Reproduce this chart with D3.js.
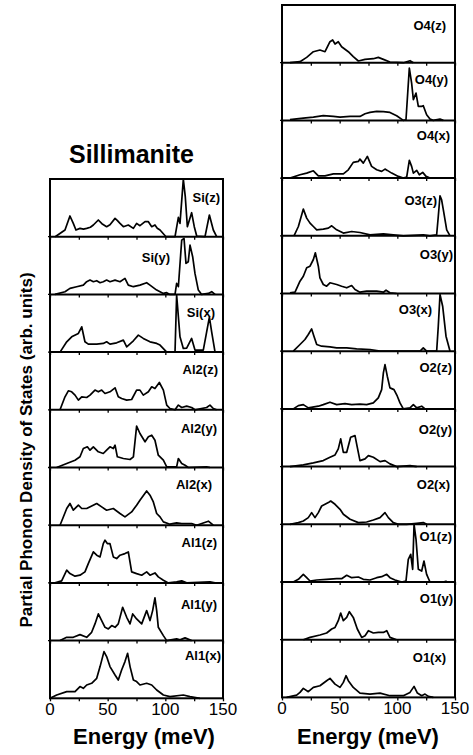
<!DOCTYPE html>
<html>
<head>
<meta charset="utf-8">
<script src="https://cdn.jsdelivr.net/npm/d3@7"></script>
<style>
  body { margin: 0; background: #fff; }
  svg { display: block; }
  text { font-family: "Liberation Sans", Arial, Helvetica, sans-serif; fill: #000; }
</style>
</head>
<body>
<svg id="chart" width="473" height="755"></svg>
<script>
// Partial phonon density of states of sillimanite, [energy (meV), PDOS (arb. units)]

// ---- Si ----
const siZ = [[4.5,0],[13,6.7],[17.3,20.7],[20.2,13.3],[22.5,6.7],[26,8.3],[29,7.5],[31.8,8.3],[35,9.5],[37.6,11.7],[41.9,16.7],[45,13],[49.1,10],[52,12],[56.4,18.3],[58.5,16],[60.7,13.3],[63.6,10],[67.9,11.7],[72.3,8.3],[75.1,13.3],[78,11],[82.4,15],[85.3,15],[88.2,10],[91,11.7],[93,8.5],[95.4,6.7],[100.6,0],[108.4,0],[111.3,19.3],[112.7,13.3],[115.6,57.3],[117.3,40],[119.1,10],[122.8,24],[125.1,10],[127.2,0.7],[134.4,0],[138.2,21.7],[141.6,6.7],[144.5,0]];
const siY = [[4.3,0],[13,2.7],[17.3,6],[23.1,7.7],[28.9,9.3],[31.8,12.7],[34.7,14.3],[37.6,12.7],[40.5,13.7],[43.4,11.7],[46.2,12.7],[49.1,14.3],[52,12.7],[56.4,14.3],[60.7,12.7],[65,16],[67.9,9.3],[72.3,7.7],[78,9.3],[83.8,11.7],[86.7,9.3],[92.5,4.3],[98.3,1],[101.2,1.7],[104,0],[108.4,0],[109.8,11],[111.3,7.7],[114.2,54.3],[116.2,56],[117.9,31],[119.9,32.7],[121.4,49.3],[123.7,37.7],[125.7,21],[128.6,4.3],[131.5,0],[137.3,1],[140.2,2.7],[143.1,0]];
const siX = [[8.7,0],[14.5,10.3],[18.8,15.3],[24.6,18.7],[27.5,25.3],[30.3,10.3],[33.2,8],[40.5,8],[46.2,8.7],[49.1,10.3],[52,8],[57.8,9.3],[63.6,12],[66.5,5.3],[72.3,11.3],[76.6,17],[80.9,13.7],[86.7,10.3],[92.5,8.7],[95.4,7],[101.2,0],[108.4,0],[109.8,57],[112.7,15.3],[115.6,3.7],[118.5,4],[122.8,13.7],[125.7,2],[132.9,2],[135.8,20],[138.2,35],[140.2,20],[143.1,0]];

// ---- Al2 ----
const al2Z = [[8.7,0],[13,13],[15.9,19],[18.8,18],[21.7,14.7],[24.6,9.7],[27.5,13],[31.8,12.3],[34.7,14.7],[39,19.7],[41.9,18],[44.8,19.7],[47.7,16.3],[52,18],[56.4,22],[59.2,13],[62.1,11.3],[66.5,9.7],[70.8,10.3],[75.1,19.7],[78,19.7],[80.9,14.7],[85.3,18],[88.2,23],[91,21.3],[94.8,27.3],[98.3,19.7],[101.2,4.7],[104,1.3],[108.4,0],[111.3,4.7],[114.2,2.3],[118.5,3.7],[122.8,2.3],[125.7,0],[135.8,2.3],[138.7,4.7],[141.6,1.3],[144.5,0]];
const al2Y = [[5.8,0],[14.5,4],[21.7,7.3],[26,10.7],[28.9,19],[32.4,20.7],[34.7,17.3],[37.6,20.7],[41.9,15.7],[46.2,14],[49.1,17.3],[52,20.7],[54.9,19],[56.4,22.3],[58.4,10.7],[63.6,9],[69.4,8],[72.3,10.7],[75.1,41.3],[78,34],[82.4,25.7],[85.3,30.7],[88.2,32.3],[91,27.3],[93.9,12.3],[98.3,7.3],[101.2,0.7],[109.8,0.7],[111.3,9],[114.2,4],[117.1,2.3],[119.9,0],[135.8,0.7],[138.7,0]];
const al2X = [[8.7,0],[14.5,16.7],[17.3,21.7],[20.2,15],[24.6,20],[27.5,16.7],[31.8,16.7],[40.5,21.7],[44.8,18.3],[49.1,15],[54.9,16.7],[60.7,11.7],[65,8.3],[70.8,13.3],[75.1,20],[78,25],[83.8,34.3],[86.7,30],[89.6,23.3],[92.5,11.7],[95.4,8.3],[98.3,3.3],[104,1],[109.8,2.3],[114.2,1.7],[122.8,1.7],[127.2,0],[137.3,4],[141.6,0]];

// ---- Al1 ----
const al1Z = [[4.3,0],[10.1,2],[14.5,12.7],[17.3,9.3],[21.7,6.7],[26,7.7],[30.3,11],[33.2,19.3],[37.6,31],[40.5,27.7],[43.4,26],[46.2,39.3],[47.7,42.7],[49.7,39.3],[52,39.3],[54.9,26],[57.8,24.3],[60.7,27.7],[65,29.3],[67.9,31],[70.8,11],[75.1,9.3],[79.5,7.7],[83.8,11],[86.7,7.7],[91,10],[93.9,6],[98.3,2.7],[102.6,0],[109.8,1],[114.2,2],[118.5,0],[138.7,1],[143.1,0]];
const al1Y = [[8.7,0],[14.5,3.3],[20.2,3.3],[26,6],[31.8,3.3],[36.1,8.3],[39,16.7],[41.9,26.7],[44.8,20],[47.7,13.3],[50.6,11.7],[53.5,15],[56.4,13.3],[59.2,16.7],[63,33.3],[66.5,23.3],[69.4,16.7],[71.7,26.7],[75.1,21.7],[79.5,16.7],[83.8,30],[86.7,20],[89,30],[91,42.7],[92.5,30],[93.9,13.3],[98.3,5],[101.2,0],[109.8,1.7],[112.7,0.7],[117.1,2.7],[122.8,0]];
const al1X = [[0,0],[5.8,3.3],[14.5,6.7],[21.7,6.7],[26,11.7],[28.9,10],[31.8,13.3],[36.1,15],[40.5,20],[43.4,31.7],[46.8,46.7],[49.1,41.7],[52,31.7],[56.4,23.3],[59.2,18.3],[62.1,28.3],[65,36.7],[67.3,45],[69.4,31.7],[72.3,18.3],[75.1,16.7],[78,13.3],[83.8,15],[88.2,13.3],[92.5,8.3],[98.3,3.3],[104,1.7],[115.6,3.3],[121.4,1.7],[130,0]];

// ---- O4 ----
const o4Z = [[6.9,0],[15.6,1],[21.4,5.3],[27.2,11],[32.9,12.7],[37.3,11],[41.6,21],[43.9,22.7],[46,18.7],[48.8,21],[51.7,16],[57.5,11],[61.8,6],[66.2,1.7],[72,3.3],[79.2,4],[83.5,5.3],[87.9,3.3],[93.6,0.7],[105.2,0],[111,2],[113.9,0]];
const o4Y = [[6.9,0.7],[18.5,2.3],[27.2,3.3],[35.8,4.7],[44.5,4],[50.3,3.3],[59,4],[67.6,4],[72,6.7],[76.3,8],[82.1,9],[87.9,8.7],[93.6,8],[99.4,4.7],[105.2,0],[107.5,0.7],[110.4,52.3],[112.4,37.3],[113.9,20.7],[116.2,27.3],[118.2,14],[121.1,14],[122.5,14.7],[125.4,5.7],[128.3,1.3],[131.2,0],[137,1.3],[139.9,0]];
const o4X = [[6.9,0],[15.6,3.3],[21.4,5],[27.2,7.3],[31.5,2.3],[37.3,2.3],[44.5,4.3],[53.2,4.3],[57.5,8.3],[61.8,15.7],[66.2,16.7],[67.6,19],[70.5,15],[74,21.7],[77.7,11.7],[82.1,8.3],[86.4,6.7],[89.3,9],[91.3,7.7],[95.1,5],[100.9,1.7],[105.2,0],[108.1,1],[110.4,17.7],[112.4,11.7],[113.9,5],[116.8,7.7],[119.1,3.3],[122,5.7],[124.9,1.7],[128.3,0]];

// ---- O3 ----
const o3Z = [[10.4,0],[14.2,9.3],[18.5,26.7],[21.4,17.7],[24.3,12.7],[27.2,9.3],[30.1,6],[35.8,6.7],[40.2,7.7],[43.1,10],[47.4,6],[53.2,2.7],[60.4,4.3],[67.6,3.3],[76.3,1],[87.9,2],[96.5,1],[105.2,0],[122.5,1],[128.3,0],[134.1,1],[135.5,19.3],[137,40],[138.4,36],[139.9,26],[142.8,6],[145.7,0]];
const o3Y = [[6.9,0.7],[11.3,1.3],[15.6,12.3],[18.5,17.3],[21.4,25.7],[24.3,27.3],[27.2,34],[28.9,40.7],[31.5,27.3],[32.9,15.7],[35.8,9],[38.7,7.3],[41.6,10.7],[47.4,9],[51.7,7.3],[56.1,5.7],[60.4,8],[63.3,4],[67.6,1.3],[73.4,2.3],[82.1,2.3],[87.9,1.3],[90.2,3.3],[93.6,0.7],[99.4,0]];
const o3X = [[9.8,0],[15.6,6.7],[19.9,11.7],[22.8,16.7],[25.7,22.3],[27.7,15],[30.1,6.7],[34.4,5],[41.6,4.3],[47.4,3.3],[56.1,3.3],[64.7,2.3],[76.3,1.7],[85,0],[119.7,0],[122.5,3.3],[125.4,0],[134.1,0],[135.5,25],[137,56.7],[139.3,45],[142.2,15],[145.7,0]];

// ---- O2 ----
const o2Z = [[9.8,0],[14.2,3.3],[18.5,4.3],[22.8,1],[31.5,2.7],[35.8,4.3],[41.6,6.7],[47.4,4.3],[54.6,5.3],[60.4,4.3],[67.6,4.7],[73.4,4.3],[79.2,6],[83.5,11],[86.4,19.3],[87.9,36],[89.3,44.3],[91.3,32.7],[93.6,21],[97.1,19.3],[100,12.7],[102.3,6],[105.2,0],[111,1],[113.9,4.3],[116.8,1],[121.1,2.7],[124,0]];
const o2Y = [[6.9,0],[18.5,1.7],[27.2,3.7],[35.8,6],[41.6,9.3],[46,11.7],[48.8,17.7],[50.9,27.7],[53.2,14.3],[56.1,14.3],[59.5,29.3],[63.3,31],[65.3,19.3],[67.6,6],[72,7.7],[74.9,11],[79.2,9.3],[85,5],[89.3,6],[93.6,2.7],[99.4,0],[111,1],[116.8,0]];
const o2X = [[6.9,0],[14.2,1.7],[18.5,3.3],[22.8,6.7],[25.7,11.7],[28.6,6.7],[31.5,11.7],[34.4,18.3],[37.3,20],[40.2,21.7],[42.2,23.3],[46,20],[50.3,15],[53.2,10],[59,5],[66.2,1.7],[73.4,2.3],[79.2,4.3],[85,6.7],[89.3,11.7],[92.2,6.7],[96.5,1.7],[100.9,0],[108.1,0],[116.8,1],[122.5,1.7],[125.4,0]];

// ---- O1 ----
const o1Z = [[9.8,0],[14.2,2.7],[18.5,7.7],[21.4,4.3],[24.3,1],[30.1,2],[38.7,2.7],[47.4,3.3],[51.7,3.3],[56.1,6.7],[60.4,4.3],[66.2,5],[70.5,2.7],[76.3,2],[82.1,4.3],[86.4,5.3],[90.8,7.7],[93.6,4.3],[98,2],[103.8,0],[107.5,1],[109.5,22.7],[111.6,27.7],[113.3,12.7],[114.5,57.7],[116.2,42.7],[118.2,12.7],[121.1,11],[123.1,21],[125.4,7.7],[128.3,0],[139.9,0],[142.8,1]];
const o1Y = [[18.5,0],[24.3,2.3],[32.9,4.7],[38.7,6.7],[43.1,10.7],[46,12.3],[48.8,19],[50.9,26.7],[53.2,19],[56.1,22.3],[58.4,28],[61.8,22.3],[65.3,10.7],[69.1,2.3],[72,4],[74.9,9],[79.2,6.7],[83.5,7.3],[87.9,7.3],[90.8,9],[93.6,2.3],[99.4,0]];
const o1X = [[4,0],[12.7,2.3],[15.6,5],[18.5,9],[22.8,5.7],[27.2,10],[32.9,11.7],[38.7,16.7],[41.6,19],[46,13.3],[50.3,10],[53.2,15],[55.5,21.7],[57.5,16.7],[61.8,10],[67.6,4.3],[76.3,3.3],[85,4.3],[93.6,1.7],[105.2,1.7],[111,5],[114.5,11],[117.4,4.3],[121.1,1.7],[124,3.3],[126.9,1],[131.2,0]];

// panel names, top to bottom
const leftLabels  = ["Si(z)","Si(y)","Si(x)","Al2(z)","Al2(y)","Al2(x)","Al1(z)","Al1(y)","Al1(x)"];
const leftSeries  = [siZ, siY, siX, al2Z, al2Y, al2X, al1Z, al1Y, al1X];
const rightLabels = ["O4(z)","O4(y)","O4(x)","O3(z)","O3(y)","O3(x)","O2(z)","O2(y)","O2(x)","O1(z)","O1(y)","O1(x)"];
const rightSeries = [o4Z, o4Y, o4X, o3Z, o3Y, o3X, o2Z, o2Y, o2X, o1Z, o1Y, o1X];

const energyTicks = [0, 25, 50, 75, 100, 125, 150];
const energyTickLabels = [0, 50, 100, 150];
const pdosMax = 57.7;

const titleText = "Sillimanite";
const xTitle = "Energy (meV)";
const yTitle = "Partial Phonon Density of States (arb. units)";

// label placement inside each panel: [gap from right edge, baseline below panel top]
const leftLabelPos  = [[3,22.5],[53,25.5],[8,22.5],[5,21.5],[6,23.5],[11,21.5],[6,21.5],[6,26.5],[2,19.5]];
const rightLabelPos = [[9,24.5],[7,21.5],[5,19.5],[18,26.5],[2,23.5],[23,20.5],[3,20.5],[3,25.5],[5,22.5],[3,16.5],[2,20.5],[9,22.5]];

const svg = d3.select("#chart");
const panelH = 57.7;

function drawColumn(cfg) {
  const { x0, x1, top, series, labels, labelPos, titleX } = cfg;
  const n = series.length;
  const bottom = top + n * panelH;
  const x = d3.scaleLinear().domain([0, 150]).range([x0, x1]);
  const g = svg.append("g");

  series.forEach((data, i) => {
    const pTop = top + i * panelH;
    const pBot = pTop + panelH;
    const y = d3.scaleLinear().domain([0, pdosMax]).range([pBot, pTop]);

    // tick marks along the bottom edge of every panel
    const axis = d3.axisBottom(x).tickValues(energyTicks).tickSize(3).tickSizeOuter(0).tickFormat("");
    const ag = g.append("g").attr("transform", `translate(0,${pBot})`).call(axis);
    ag.select(".domain").remove();
    ag.selectAll(".tick line").attr("stroke", "#000").attr("stroke-width", 1.3);

    const line = d3.line().x(d => x(d[0])).y(d => y(d[1]));
    g.append("path")
      .datum(data)
      .attr("d", line)
      .attr("fill", "none")
      .attr("stroke", "#000")
      .attr("stroke-width", 1.7)
      .attr("stroke-linejoin", "round");

    g.append("text")
      .attr("x", x1 - labelPos[i][0])
      .attr("y", pTop + labelPos[i][1])
      .attr("text-anchor", "end")
      .attr("font-size", 13)
      .attr("font-weight", "bold")
      .text(labels[i]);

    if (i > 0) {
      g.append("line")
        .attr("x1", x0).attr("x2", x1)
        .attr("y1", pTop).attr("y2", pTop)
        .attr("stroke", "#000").attr("stroke-width", 2);
      g.append("line")
        .attr("x1", x0 - 2).attr("x2", x0)
        .attr("y1", pTop).attr("y2", pTop)
        .attr("stroke", "#000").attr("stroke-width", 1.3);
    }
  });

  g.append("rect")
    .attr("x", x0).attr("y", top)
    .attr("width", x1 - x0).attr("height", bottom - top)
    .attr("fill", "none").attr("stroke", "#000").attr("stroke-width", 2);

  g.selectAll("text.tick-label")
    .data(energyTickLabels)
    .join("text")
    .attr("class", "tick-label")
    .attr("x", d => x(d))
    .attr("y", bottom + 17)
    .attr("text-anchor", "middle")
    .attr("font-size", 17)
    .text(d => d);

  g.append("text")
    .attr("x", titleX)
    .attr("y", 744)
    .attr("text-anchor", "middle")
    .attr("font-size", 22)
    .attr("font-weight", "bold")
    .text(xTitle);
}

drawColumn({ x0: 50, x1: 223, top: 179, series: leftSeries, labels: leftLabels, labelPos: leftLabelPos, titleX: 144 });
drawColumn({ x0: 282, x1: 455, top: 5, series: rightSeries, labels: rightLabels, labelPos: rightLabelPos, titleX: 368 });

svg.append("text")
  .attr("x", 131.5).attr("y", 163)
  .attr("text-anchor", "middle")
  .attr("font-size", 25)
  .attr("font-weight", "bold")
  .text(titleText);

svg.append("text")
  .attr("transform", "translate(31.5,450) rotate(-90)")
  .attr("text-anchor", "middle")
  .attr("font-size", 17)
  .attr("font-weight", "bold")
  .text(yTitle);
</script>
</body>
</html>
